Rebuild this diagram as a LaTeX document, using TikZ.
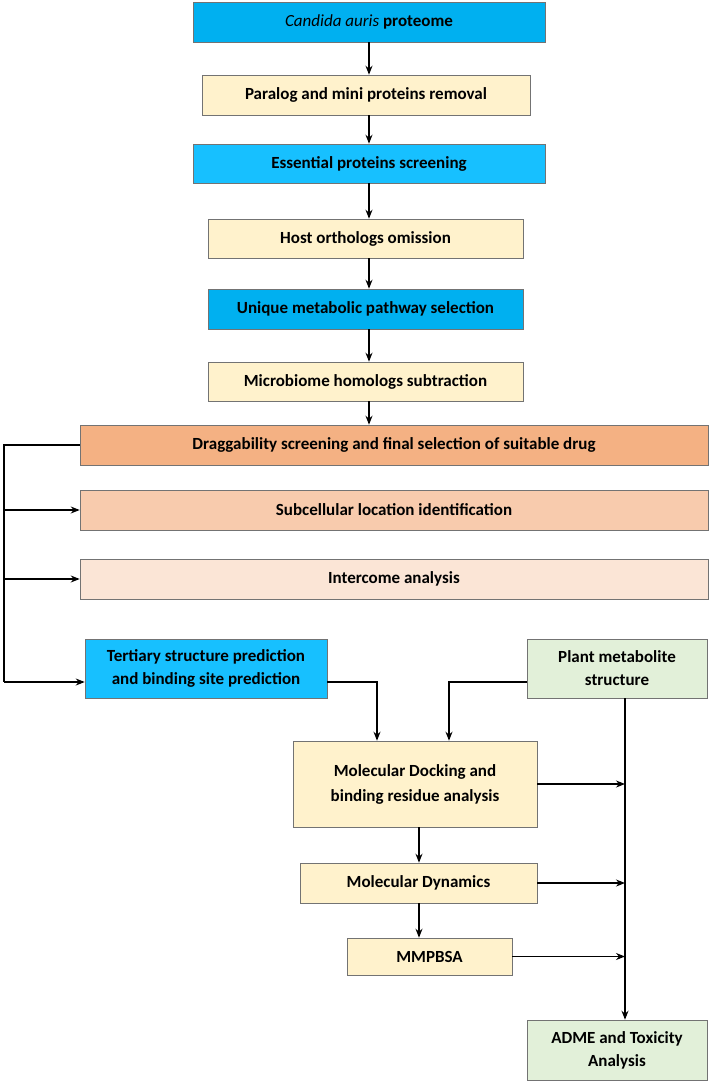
\documentclass[tikz,border=0pt]{standalone}
\usepackage{fontspec}
\setmainfont{Carlito}
\usetikzlibrary{arrows.meta}
\definecolor{bA}{HTML}{00B0F0}
\definecolor{bB}{HTML}{17C0FF}
\definecolor{cr}{HTML}{FFF2CC}
\definecolor{o1}{HTML}{F4B183}
\definecolor{o2}{HTML}{F8CBAD}
\definecolor{o3}{HTML}{FBE5D6}
\definecolor{gr}{HTML}{E2F0D9}
\begin{document}
\begin{tikzpicture}[x=1pt,y=-1pt,
 box/.style={draw=black!55,line width=0.6pt,font=\fontsize{17}{19}\selectfont\bfseries,align=center,inner sep=0pt},
 ar/.style={-{Stealth[length=9pt,width=7pt]},line width=1.1pt}]
\useasboundingbox (0,0) rectangle (724,1082);
\newcommand\bx[7]{\node[box,fill=#6,minimum width=#4-#2,minimum height=#5-#3] (#1) at ({(#2+#4)/2},{(#3+#5)/2}) {#7};}
\bx{a}{193}{2}{545}{42}{bA}{\textit{\textmd{Candida auris}} proteome}
\bx{b}{202}{75}{530}{115}{cr}{Paralog and mini proteins removal}
\bx{c}{193}{144}{545}{183}{bB}{Essential proteins screening}
\bx{d}{208}{219}{523}{258}{cr}{Host orthologs omission}
\bx{e}{208}{289}{523}{329}{bA}{Unique metabolic pathway selection}
\bx{f}{208}{362}{523}{401}{cr}{Microbiome homologs subtraction}
\bx{g}{80}{425}{708}{465}{o1}{Draggability screening and final selection of suitable drug}
\bx{h}{80}{490}{708}{530}{o2}{Subcellular location identification}
\bx{i}{80}{559}{708}{599}{o3}{Intercome analysis}
\bx{j}{85}{639}{327}{698}{bB}{Tertiary structure prediction\\[4pt]and binding site prediction}
\bx{k}{527}{639}{707}{698}{gr}{Plant metabolite\\[4pt]structure}
\bx{l}{293}{741}{537}{827}{cr}{Molecular Docking and\\[6pt]binding residue analysis}
\bx{m}{300}{863}{537}{903}{cr}{Molecular Dynamics}
\bx{n}{347}{938}{512}{975}{cr}{MMPBSA}
\bx{o}{527}{1020}{707}{1080}{gr}{ADME and Toxicity\\[4pt]Analysis}
\foreach \p/\q in {a/b,b/c,c/d,d/e,e/f,f/g}{\draw[ar] (369,0 |- \p.south) -- (369,0 |- \q.north);}
\coordinate (L1) at (4,445); \coordinate (L2) at (4,682);
\coordinate (J) at (377,682); \coordinate (K) at (449,682);
\draw[line width=1.1pt] (g.west) -- (L1) -- (L2);
\draw[ar] (L2) -- (L2 -| j.west);
\draw[ar] (4,0 |- h.west) -- (h.west);
\draw[ar] (4,0 |- i.west) -- (i.west);
\draw[ar] (J -| j.east) -- (J) -- (J |- l.north);
\draw[ar] (K -| k.west) -- (K) -- (K |- l.north);
\draw[ar] (625,0 |- k.south) -- (625,0 |- o.north);
\draw[ar] (l.east) -- (625,0 |- l.east);
\draw[ar] (m.east) -- (625,0 |- m.east);
\draw[ar] (n.east) -- (625,0 |- n.east);
\draw[ar] (419,0 |- l.south) -- (419,0 |- m.north);
\draw[ar] (419,0 |- m.south) -- (419,0 |- n.north);
\end{tikzpicture}
\end{document}
